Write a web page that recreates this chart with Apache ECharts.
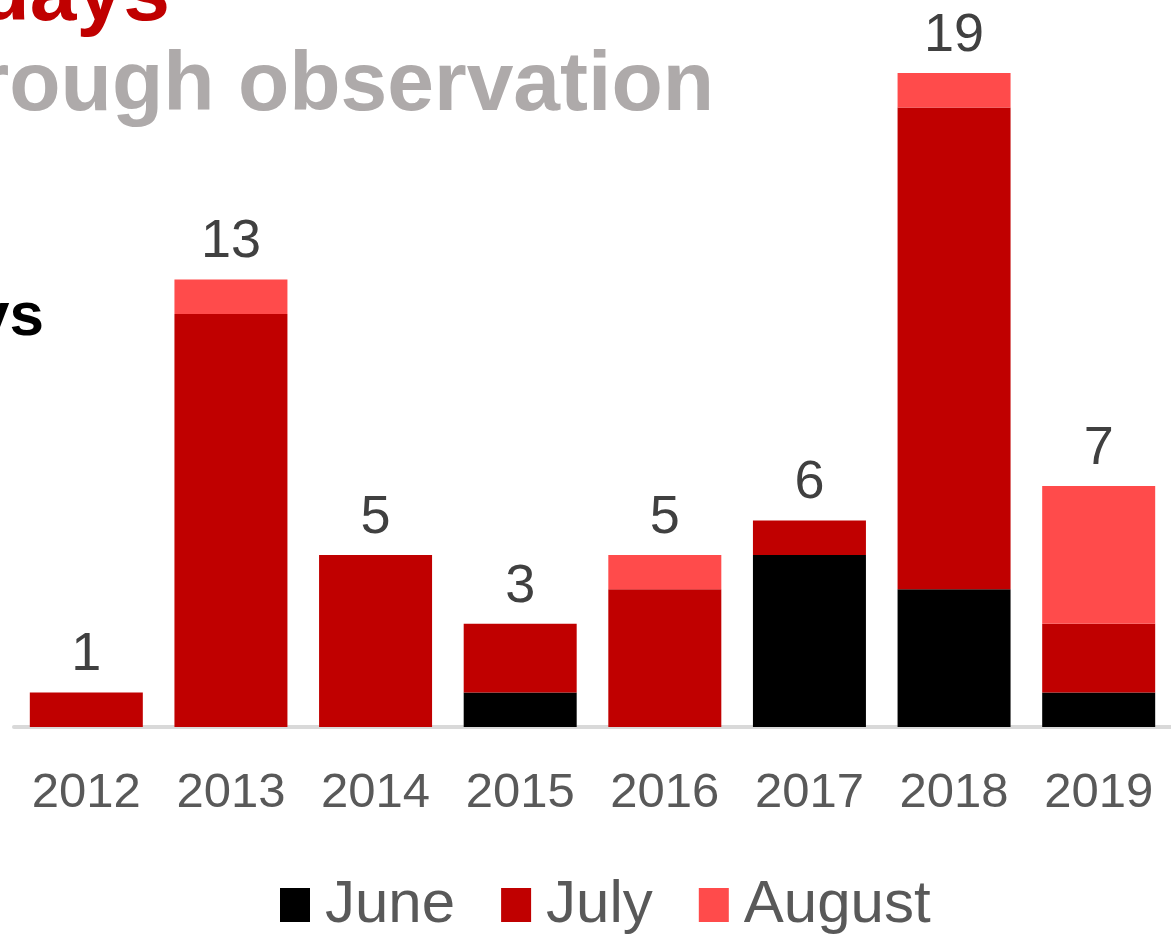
<!DOCTYPE html>
<html>
<head>
    <meta charset="utf-8">
    <title>Days by month</title>
    <script src="https://cdn.jsdelivr.net/npm/echarts@6/dist/echarts.min.js"></script>
    <style>
        html, body { margin: 0; padding: 0; background: #fff; }
        #chart1 { width: 1171px; height: 936px; }
    </style>
</head>
<body>
<div id="chart1"></div>
<script type="text/javascript">
    // data
    var years = ['2012', '2013', '2014', '2015', '2016', '2017', '2018', '2019'];
    var june = [0, 0, 0, 1, 0, 5, 4, 1];
    var july = [1, 12, 5, 2, 4, 1, 14, 2];
    var august = [0, 1, 0, 0, 1, 0, 1, 4];
    var totals = [1, 13, 5, 3, 5, 6, 19, 7];

    var myChart1 = echarts.init(document.getElementById('chart1'));

    var font = 'Liberation Sans, Arial, sans-serif';

    myChart1.setOption({
        animation: false,
        textStyle: { fontFamily: font },
        // title pieces, cut off by the picture edge like in the original
        graphic: [
            { type: 'text', x: 170, y: -45, style: { text: 'days', align: 'right', fill: '#c00000', font: 'bold 84px ' + font } },
            { type: 'text', x: 714, y: 45, style: { text: 'through observation', align: 'right', fill: '#aeaaaa', font: 'bold 84px ' + font } },
            { type: 'text', x: 44, y: 287, style: { text: 'days', align: 'right', fill: '#000', font: 'bold 62px ' + font } }
        ],
        legend: {
            data: ['June', 'July', 'August'],
            bottom: -4,
            left: 275,
            itemWidth: 30,
            itemHeight: 34,
            itemGap: 46,
            icon: 'rect',
            textStyle: { fontSize: 60, color: '#595959', fontFamily: font, padding: [0, 0, 0, 10] }
        },
        grid: { left: 14, right: 0, top: 73, bottom: 209 },
        xAxis: {
            type: 'category',
            data: years,
            axisLine: { lineStyle: { color: '#d9d9d9', width: 4 } },
            axisTick: { show: false },
            axisLabel: { fontSize: 49, color: '#595959', margin: 42 }
        },
        yAxis: {
            type: 'value',
            min: 0,
            max: 19,
            show: false
        },
        series: [{
            name: 'June',
            type: 'bar',
            stack: 'days',
            barWidth: 113,
            itemStyle: { color: '#000000' },
            data: june
        }, {
            name: 'July',
            type: 'bar',
            stack: 'days',
            itemStyle: { color: '#c00000' },
            data: july
        }, {
            name: 'August',
            type: 'bar',
            stack: 'days',
            itemStyle: { color: '#ff4b4b' },
            label: {
                show: true,
                position: 'top',
                distance: 10,
                fontSize: 54,
                color: '#404040',
                formatter: function (p) { return totals[p.dataIndex]; }
            },
            data: august
        }]
    });
</script>
</body>
</html>
